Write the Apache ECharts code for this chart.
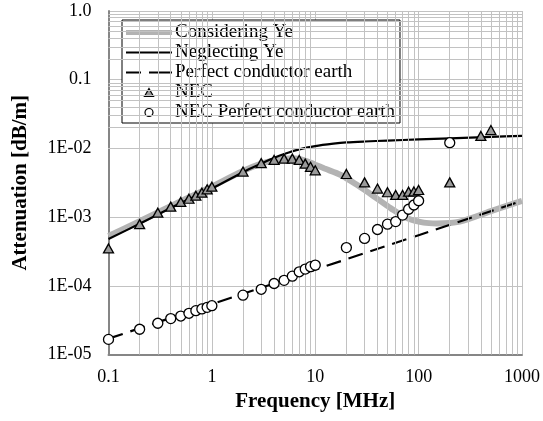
<!DOCTYPE html>
<html>
<head>
<meta charset="utf-8">
<script src="https://cdn.jsdelivr.net/npm/echarts@6/dist/echarts.min.js"></script>
<style>
html,body{margin:0;padding:0;background:#fff;}
#chart{width:543px;height:421px;}
</style>
</head>
<body>
<div id="chart"></div>
<script>
// ---- Data ----
const seriesNames = ['Considering Ye', 'Neglecting Ye', 'Perfect conductor earth', 'NEC', 'NEC Perfect conductor earth'];

const consideringFreq = [0.1, 0.2, 0.5, 1, 2, 3, 4, 5, 6, 7, 8.6, 10, 12.3, 17.7, 25.7, 37, 54, 78, 112, 150, 250, 500, 1000];
const consideringVal  = [5.3e-4, 8.7e-4, 1.7e-3, 2.8e-3, 4.7e-3, 6.0e-3, 6.7e-3, 7.1e-3, 7.2e-3, 7.0e-3, 6.4e-3, 5.8e-3, 5.1e-3, 4.1e-3, 2.9e-3, 2.0e-3, 1.34e-3, 9.6e-4, 8.3e-4, 8.1e-4, 8.6e-4, 1.22e-3, 1.72e-3];

const neglectingFreq = [0.1, 0.2, 0.5, 1, 2, 3, 4, 5, 7, 10, 15, 20, 30, 50, 100, 200, 500, 1000];
const neglectingVal  = [4.8e-4, 8.0e-4, 1.6e-3, 2.6e-3, 4.5e-3, 6.0e-3, 7.3e-3, 8.3e-3, 9.7e-3, 1.08e-2, 1.17e-2, 1.22e-2, 1.26e-2, 1.3e-2, 1.35e-2, 1.4e-2, 1.47e-2, 1.52e-2];

const perfectFreq = [0.1, 1, 10, 100, 1000];
const perfectVal  = [1.7e-5, 5.4e-5, 1.72e-4, 5.45e-4, 1.72e-3];

const necFreq = [0.1, 0.2, 0.3, 0.4, 0.5, 0.6, 0.7, 0.8, 0.9, 1, 2, 3, 4, 5, 6, 7, 8, 9, 10, 20, 30, 40, 50, 60, 70, 80, 90, 100, 200, 400, 500];
const necVal  = [3.5e-4, 7.9e-4, 1.16e-3, 1.42e-3, 1.66e-3, 1.85e-3, 2.05e-3, 2.27e-3, 2.54e-3, 2.77e-3, 4.6e-3, 6.1e-3, 6.8e-3, 7.1e-3, 7.1e-3, 6.8e-3, 6.0e-3, 5.4e-3, 4.8e-3, 4.24e-3, 3.2e-3, 2.6e-3, 2.3e-3, 2.1e-3, 2.1e-3, 2.34e-3, 2.36e-3, 2.48e-3, 3.2e-3, 1.52e-2, 1.85e-2];

const necPecFreq = [0.1, 0.2, 0.3, 0.4, 0.5, 0.6, 0.7, 0.8, 0.9, 1, 2, 3, 4, 5, 6, 7, 8, 9, 10, 20, 30, 40, 50, 60, 70, 80, 90, 100, 200];
const necPecVal  = [1.66e-5, 2.33e-5, 2.85e-5, 3.33e-5, 3.63e-5, 3.98e-5, 4.35e-5, 4.6e-5, 4.86e-5, 5.13e-5, 7.3e-5, 8.9e-5, 1.08e-4, 1.2e-4, 1.38e-4, 1.6e-4, 1.75e-4, 1.9e-4, 2.0e-4, 3.6e-4, 4.9e-4, 6.6e-4, 7.9e-4, 8.6e-4, 1.07e-3, 1.3e-3, 1.5e-3, 1.73e-3, 1.21e-2];

const xTickValues = [0.1, 1, 10, 100, 1000];
const xTickLabels = ['0.1', '1', '10', '100', '1000'];
const yTickValues = [1e-5, 1e-4, 1e-3, 1e-2, 0.1, 1];
const yTickLabels = ['1E-05', '1E-04', '1E-03', '1E-02', '0.1', '1.0'];

// minor grid positions (2..9 within each decade)
const xMinor = [];
for (let e = -1; e < 3; e++) for (let m = 2; m <= 9; m++) xMinor.push(+(m * Math.pow(10, e)).toPrecision(3));
const yMinor = [];
for (let e = -5; e < 0; e++) for (let m = 2; m <= 9; m++) yMinor.push(+(m * Math.pow(10, e)).toPrecision(3));

function pairs(xs, ys) { return xs.map((x, i) => [x, ys[i]]); }
function labelFor(values, labels, v) {
  for (let i = 0; i < values.length; i++) {
    if (Math.abs(Math.log10(v) - Math.log10(values[i])) < 1e-6) return labels[i];
  }
  return '';
}

const FONT = "'Liberation Serif', 'Times New Roman', serif";
const GRID_COLOR = '#c2c2c2';
const GRAY_LINE = '#b3b3b3';
const TRI_FILL = '#9a9a9a';

// legend icon shapes
const ICON_THICK = 'path://M0,0H46V5H0Z';
const ICON_THIN = 'path://M0,0H46V2H0Z';
const ICON_DASH = 'path://M0,0H15V2H0Z M23,0H46V2H23Z';
const ICON_TRI = 'path://M4,0L8,7L0,7Z';

const chart = echarts.init(document.getElementById('chart'), null, {renderer: 'canvas'});
chart.setOption({
  animation: false,
  backgroundColor: '#fff',
  textStyle: {fontFamily: FONT, color: '#000'},
  grid: {left: 108.5, right: 17.3, top: 11, bottom: 66.5},
  legend: {
    orient: 'vertical',
    left: 122,
    top: 20,
    data: [
      {name: seriesNames[0], icon: ICON_THICK, itemStyle: {color: GRAY_LINE, borderWidth: 0}},
      {name: seriesNames[1], icon: ICON_THIN, itemStyle: {color: '#000', borderWidth: 0}},
      {name: seriesNames[2], icon: ICON_DASH, itemStyle: {color: '#000', borderWidth: 0}},
      {name: seriesNames[3], icon: ICON_TRI, itemStyle: {color: TRI_FILL, borderColor: '#000', borderWidth: 1.2}},
      {name: seriesNames[4], icon: 'circle', itemStyle: {color: '#fff', borderColor: '#000', borderWidth: 1.2}}
    ],
    symbolKeepAspect: true,
    backgroundColor: '#fff',
    borderColor: '#000',
    borderWidth: 1,
    padding: [3, 5, 1, 4],
    itemGap: 1,
    itemWidth: 46,
    itemHeight: 8,
    textStyle: {fontFamily: FONT, fontSize: 19, color: '#000', padding: [0, 0, 0, -2]}
  },
  xAxis: {
    type: 'log', logBase: 10, min: 0.1, max: 1000,
    name: 'Frequency [MHz]', nameLocation: 'middle', nameGap: 37,
    nameTextStyle: {fontFamily: FONT, fontSize: 21, fontWeight: 'bold', color: '#000'},
    axisLine: {show: true, lineStyle: {color: '#868686', width: 2}},
    axisTick: {show: false},
    axisLabel: {fontFamily: FONT, fontSize: 18, color: '#000', margin: 14,
      formatter: v => labelFor(xTickValues, xTickLabels, v)},
    splitLine: {show: true, lineStyle: {color: GRID_COLOR, width: 1}}
  },
  yAxis: {
    type: 'log', logBase: 10, min: 1e-5, max: 1,
    name: 'Attenuation [dB/m]', nameLocation: 'middle', nameGap: 77, nameRotate: 90,
    nameTextStyle: {fontFamily: FONT, fontSize: 21, fontWeight: 'bold', color: '#000'},
    axisLine: {show: true, lineStyle: {color: '#868686', width: 2}},
    axisTick: {show: false},
    axisLabel: {fontFamily: FONT, fontSize: 18, color: '#000', margin: 17,
      formatter: v => labelFor(yTickValues, yTickLabels, v)},
    splitLine: {show: true, lineStyle: {color: GRID_COLOR, width: 1}}
  },
  series: [
    {
      name: 'minor-grid', type: 'line', data: [[1, 1e-3]], z: 1, silent: true,
      symbol: 'none', lineStyle: {opacity: 0}, itemStyle: {opacity: 0},
      markLine: {
        silent: true, symbol: ['none', 'none'], label: {show: false},
        lineStyle: {type: 'solid', color: GRID_COLOR, width: 1},
        emphasis: {disabled: true},
        animation: false,
        data: xMinor.map(v => ({xAxis: v})).concat(yMinor.map(v => ({yAxis: v})))
      }
    },
    {
      name: seriesNames[0], type: 'line', data: pairs(consideringFreq, consideringVal),
      symbol: 'none', smooth: 0.3, z: 3,
      lineStyle: {color: GRAY_LINE, width: 6}, itemStyle: {color: GRAY_LINE}
    },
    {
      name: seriesNames[1], type: 'line', data: pairs(neglectingFreq, neglectingVal),
      symbol: 'none', smooth: 0.3, z: 4,
      lineStyle: {color: '#000', width: 2.2}, itemStyle: {color: '#000'}
    },
    {
      name: seriesNames[2], type: 'line', data: pairs(perfectFreq, perfectVal),
      symbol: 'none', z: 4,
      lineStyle: {color: '#000', width: 2.2, type: [15, 8]}, itemStyle: {color: '#000'}
    },
    {
      name: seriesNames[3], type: 'scatter', data: pairs(necFreq, necVal),
      symbol: 'triangle', symbolSize: [10, 9], z: 5,
      itemStyle: {color: TRI_FILL, borderColor: '#000', borderWidth: 1.3, opacity: 1}
    },
    {
      name: seriesNames[4], type: 'scatter', data: pairs(necPecFreq, necPecVal),
      symbol: 'circle', symbolSize: 10, z: 5,
      itemStyle: {color: '#fff', borderColor: '#000', borderWidth: 1.3, opacity: 1}
    }
  ]
});
</script>
</body>
</html>
